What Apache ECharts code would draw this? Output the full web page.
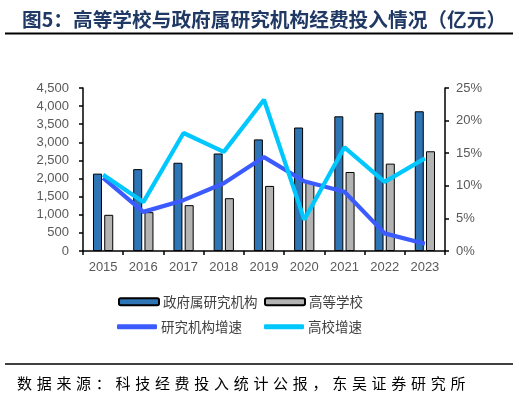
<!DOCTYPE html>
<html>
<head>
<meta charset="utf-8">
<script src="https://cdn.jsdelivr.net/npm/echarts@6/dist/echarts.min.js"></script>
<style>
html,body{margin:0;padding:0;background:#fff;}
#c{width:519px;height:412px;}
</style>
</head>
<body>
<div id="c"></div>
<script>
var years = ['2015','2016','2017','2018','2019','2020','2021','2022','2023'];
var govResearch = [2136, 2260, 2436, 2692, 3081, 3409, 3718, 3814, 3857];
var higherEdu = [999, 1072, 1266, 1458, 1797, 1883, 2181, 2412, 2753];
var govGrowth = [11.2, 6.0, 7.8, 10.4, 14.4, 10.7, 9.1, 2.7, 1.1];
var eduGrowth = [11.7, 7.5, 18.1, 15.2, 23.2, 4.8, 15.9, 10.6, 14.2];
var leftTicks = {min: 0, max: 4500, interval: 500};
var rightTicks = {min: 0, max: 25, interval: 5};

var titleText = '图5：高等学校与政府属研究机构经费投入情况（亿元）';
var sourceText = '数据来源：科技经费投入统计公报，东吴证券研究所';
var cjk = '"Noto Sans CJK SC", sans-serif';
var latin = '"Liberation Sans", Arial, sans-serif';

var chart = echarts.init(document.getElementById('c'));

var srcChars = [];
for (var i = 0; i < sourceText.length; i++) {
  srcChars.push({
    type: 'text', left: 17 + i * 19.7, top: 376,
    style: {text: sourceText[i], font: '15px ' + cjk, fill: '#000'}
  });
}

function fmt(v){ return String(v).replace(/\B(?=(\d{3})+(?!\d))/g, ','); }

var legendBase = {
  itemWidth: 40, itemGap: 10,
  textStyle: {fontFamily: cjk, fontSize: 13.5, color: '#404040', padding: [0,0,0,-1]},
  padding: 0
};

chart.setOption({
  animation: false,
  title: {
    text: titleText, left: 17, top: 5,
    textStyle: {fontFamily: cjk, fontSize: 19.7, fontWeight: 'bold', color: '#1F3864'}
  },
  graphic: [
    {type: 'line', shape: {x1: 5, y1: 33.5, x2: 513, y2: 33.5}, style: {stroke: '#000', lineWidth: 2}},
    {type: 'line', shape: {x1: 5, y1: 364, x2: 513, y2: 364}, style: {stroke: '#000', lineWidth: 1.5}}
  ].concat(srcChars),
  grid: {left: 83, right: 74, top: 88, bottom: 161},
  legend: [
    Object.assign({}, legendBase, {left: 118, top: 295, itemHeight: 7, data: ['政府属研究机构']}),
    Object.assign({}, legendBase, {left: 264, top: 295, itemHeight: 7, data: ['高等学校']}),
    Object.assign({}, legendBase, {left: 117, top: 320, itemHeight: 5, data: [{name: '研究机构增速', icon: 'roundRect'}]}),
    Object.assign({}, legendBase, {left: 264, top: 320, itemHeight: 5, data: [{name: '高校增速', icon: 'roundRect'}]})
  ],
  xAxis: {
    type: 'category', data: years,
    axisLine: {lineStyle: {color: '#000', width: 1.5}},
    axisTick: {show: true, alignWithLabel: false, length: 4, lineStyle: {color: '#000', width: 1.5}},
    axisLabel: {fontFamily: latin, fontSize: 13, color: '#595959', margin: 10}
  },
  yAxis: [
    {
      type: 'value', min: leftTicks.min, max: leftTicks.max, interval: leftTicks.interval,
      splitLine: {show: false},
      axisLine: {show: true, lineStyle: {color: '#000', width: 1.5}},
      axisTick: {show: true, length: 4, lineStyle: {color: '#000', width: 1.5}},
      axisLabel: {fontFamily: latin, fontSize: 13, color: '#595959', margin: 14, formatter: fmt}
    },
    {
      type: 'value', min: rightTicks.min, max: rightTicks.max, interval: rightTicks.interval,
      splitLine: {show: false},
      axisLine: {show: true, lineStyle: {color: '#000', width: 1.5}},
      axisTick: {show: true, length: 4, lineStyle: {color: '#000', width: 1.5}},
      axisLabel: {fontFamily: latin, fontSize: 13, color: '#595959', margin: 11, formatter: '{value}%'}
    }
  ],
  series: [
    {name: '政府属研究机构', type: 'bar', data: govResearch, barWidth: 9, barGap: '25%',
     itemStyle: {color: '#2E75B6', borderColor: '#000', borderWidth: 1}},
    {name: '高等学校', type: 'bar', data: higherEdu, barWidth: 9,
     itemStyle: {color: '#B3B3B3', borderColor: '#000', borderWidth: 1}},
    {name: '研究机构增速', type: 'line', yAxisIndex: 1, data: govGrowth, symbol: 'none',
     lineStyle: {color: '#3B5BFF', width: 4.2}, itemStyle: {color: '#3B5BFF'}},
    {name: '高校增速', type: 'line', yAxisIndex: 1, data: eduGrowth, symbol: 'none',
     lineStyle: {color: '#00C8FF', width: 4.2}, itemStyle: {color: '#00C8FF'}}
  ]
});
</script>
</body>
</html>
